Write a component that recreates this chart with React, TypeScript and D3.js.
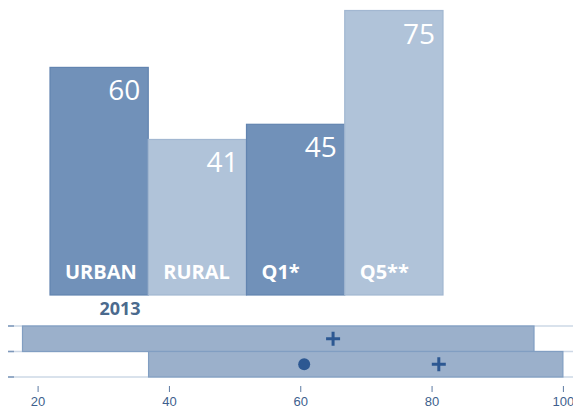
import React, { useEffect, useRef } from 'react';
import * as d3 from 'd3';

// top bar chart
const categories = ['URBAN', 'RURAL', 'Q1*', 'Q5**'];
const values = [60, 41, 45, 75];
const yearLabel = '2013';

// bottom range chart
const rowNames = ['row1', 'row2'];
const rangeLow = [17.7, 36.9];
const rangeHigh = [95.6, 100];
const plusValues = [65, 81.1];
const dotValues: (number | null)[] = [null, 60.6];
const xTicks = [20, 40, 60, 80, 100];

const FONT = "'Open Sans', 'Noto Sans', sans-serif";

function App() {
  const ref = useRef<SVGSVGElement>(null);

  useEffect(() => {
    const svg = d3.select(ref.current);
    svg.selectAll('*').remove();

    const x = d3.scaleBand<string>()
      .domain(categories)
      .range([50, 443])
      .padding(0);

    const y = d3.scaleLinear()
      .domain([0, 75])
      .range([295, 10.5]);

    const dark = (i: number) => i % 2 === 0;

    svg.append('g')
      .selectAll('rect')
      .data(categories)
      .enter().append('rect')
      .attr('x', d => x(d)!)
      .attr('y', (d, i) => y(values[i]))
      .attr('width', x.bandwidth())
      .attr('height', (d, i) => y(0) - y(values[i]))
      .attr('fill', (d, i) => dark(i) ? '#7191b9' : '#b0c3d9')
      .attr('stroke', (d, i) => dark(i) ? '#6284b0' : '#a2b7d1')
      .attr('stroke-width', 1.2);

    // values, top right inside bar
    svg.append('g')
      .selectAll('text')
      .data(categories)
      .enter().append('text')
      .attr('x', d => x(d)! + x.bandwidth() - 8)
      .attr('y', (d, i) => y(values[i]) + 33)
      .attr('text-anchor', 'end')
      .attr('fill', '#ffffff')
      .style('font-family', FONT)
      .style('font-size', '28px')
      .text((d, i) => values[i]);

    // category names at bottom of bars
    svg.append('g')
      .selectAll('text')
      .data(categories)
      .enter().append('text')
      .attr('x', d => x(d)! + 15)
      .attr('y', 279)
      .attr('fill', '#ffffff')
      .style('font-family', FONT)
      .style('font-size', '20px')
      .style('font-weight', 'bold')
      .text(d => d);

    svg.append('text')
      .attr('x', 120)
      .attr('y', 315)
      .attr('text-anchor', 'middle')
      .attr('fill', '#4b6a8d')
      .style('font-family', FONT)
      .style('font-size', '18px')
      .style('font-weight', 'bold')
      .text(yearLabel);

    // range chart
    const xr = d3.scaleLinear().domain([20, 100]).range([37.6, 562.9]);
    const yr = d3.scaleBand<string>().domain(rowNames).range([326, 377]).padding(0);

    const gridY = [yr.range()[0], ...rowNames.map(r => yr(r)! + yr.bandwidth())];

    svg.append('g')
      .selectAll('line')
      .data(gridY)
      .enter().append('line')
      .attr('x1', 8)
      .attr('x2', 573)
      .attr('y1', d => d)
      .attr('y2', d => d)
      .attr('stroke', '#cdd8e6')
      .attr('stroke-width', 1.5);

    svg.append('g')
      .selectAll('line')
      .data(gridY)
      .enter().append('line')
      .attr('x1', 8)
      .attr('x2', 14)
      .attr('y1', d => d)
      .attr('y2', d => d)
      .attr('stroke', '#7e98bb')
      .attr('stroke-width', 1.5);

    svg.append('g')
      .selectAll('rect')
      .data(rowNames)
      .enter().append('rect')
      .attr('x', (d, i) => xr(rangeLow[i]))
      .attr('y', d => yr(d)!)
      .attr('width', (d, i) => xr(rangeHigh[i]) - xr(rangeLow[i]))
      .attr('height', yr.bandwidth())
      .attr('fill', '#9bb0cb')
      .attr('stroke', '#819ec2')
      .attr('stroke-width', 1.2);

    // plus markers
    svg.append('g')
      .selectAll('path')
      .data(rowNames)
      .enter().append('path')
      .attr('transform', (d, i) => `translate(${xr(plusValues[i])},${yr(d)! + yr.bandwidth() / 2})`)
      .attr('d', 'M-7,0H7M0,-7V7')
      .attr('stroke', '#2d5892')
      .attr('stroke-width', 3)
      .attr('fill', 'none');

    svg.append('g')
      .selectAll('circle')
      .data(rowNames.filter((d, i) => dotValues[i] != null))
      .enter().append('circle')
      .attr('cx', d => xr(dotValues[rowNames.indexOf(d)] as number))
      .attr('cy', d => yr(d)! + yr.bandwidth() / 2)
      .attr('r', 6)
      .attr('fill', '#2d5892');

    const axis = svg.append('g')
      .attr('transform', 'translate(0,386)')
      .call(d3.axisBottom(xr).tickValues(xTicks).tickSize(6).tickPadding(5));
    axis.select('.domain').remove();
    axis.selectAll('line').attr('stroke', '#5d7ba3').attr('stroke-width', 1);
    axis.selectAll('text')
      .attr('fill', '#3e5f8e')
      .style('font-family', "'Liberation Sans', Arial, sans-serif")
      .style('font-size', '13px');
  }, []);

  return (
    <svg
      ref={ref}
      width={573}
      height={409}
      style={{ position: 'absolute', left: 0, top: 0, background: '#ffffff' }}
    />
  );
}

export default App;
